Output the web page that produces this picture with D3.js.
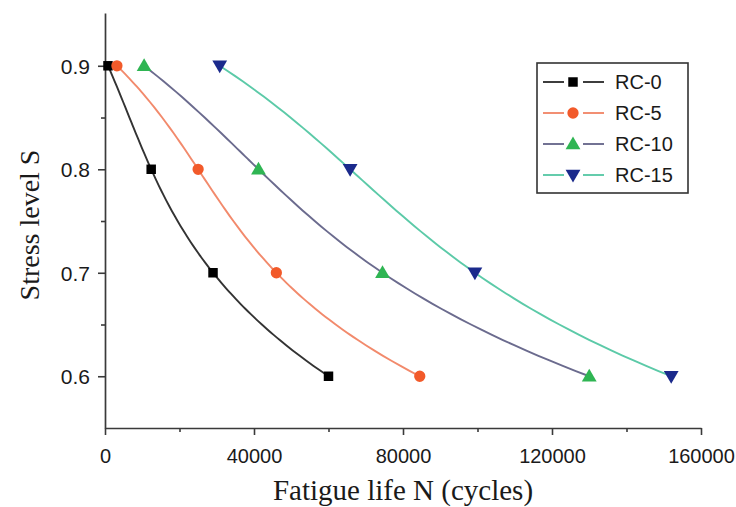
<!DOCTYPE html>
<html>
<head>
<meta charset="utf-8">
<script src="https://cdn.jsdelivr.net/npm/d3@7"></script>
<style>
  body { margin: 0; background: #fff; }
</style>
</head>
<body>
<svg class="chart"></svg>
<script>
// stress levels and fatigue life readings (cycles)
var stress = [0.9, 0.8, 0.7, 0.6];
var seriesNames = ["RC-0", "RC-5", "RC-10", "RC-15"];
var rc0 = [800, 12400, 29000, 60000];
var rc5 = [3200, 25000, 46000, 84500];
var rc10 = [10500, 41200, 74500, 130000];
var rc15 = [30800, 65800, 99300, 152000];
var xTicks = [0, 40000, 80000, 120000, 160000];
var yTicks = [0.6, 0.7, 0.8, 0.9];

var width = 736, height = 507;
var margin = {top: 13, right: 35, bottom: 79, left: 105};

var svg = d3.select(".chart").attr("width", width).attr("height", height);

var x = d3.scaleLinear().domain([0, 160000]).range([margin.left, width - margin.right]);
var y = d3.scaleLinear().domain([0.55, 0.951]).range([height - margin.bottom, margin.top]);

var styles = [
  {line: "#333333", fill: "#000000", shape: "square"},
  {line: "#f28a6c", fill: "#f25a2a", shape: "circle"},
  {line: "#6b6b8e", fill: "#2fb553", shape: "up"},
  {line: "#5ccaa8", fill: "#1b2a8c", shape: "down"}
];
var series = [rc0, rc5, rc10, rc15].map(function(vals, i) {
  return {name: seriesNames[i], style: styles[i],
          pts: vals.map(function(v, j) { return {n: v, s: stress[j]}; })};
});

// smooth polynomial trend N(S) through the measured points
function trend(pts) {
  return function(s) {
    var sum = 0;
    pts.forEach(function(pi, i) {
      var w = 1;
      pts.forEach(function(pj, j) { if (i != j) w *= (s - pj.s) / (pi.s - pj.s); });
      sum += w * pi.n;
    });
    return sum;
  };
}

function symbolPath(shape) {
  if (shape == "square") return d3.symbol(d3.symbolSquare, 90)();
  if (shape == "circle") return d3.symbol(d3.symbolCircle, 100)();
  return d3.symbol(d3.symbolTriangle, 95)();
}
function symbolTransform(shape, px, py) {
  if (shape == "up") return "translate(" + px + "," + (py + 1) + ")";
  if (shape == "down") return "translate(" + px + "," + (py - 1) + ") rotate(180)";
  return "translate(" + px + "," + py + ")";
}

// axes
var axisColor = "#3a3a3a";
var xAxis = svg.append("g").attr("transform", "translate(0," + y(0.55) + ")")
  .call(d3.axisBottom(x).tickValues(xTicks).tickSize(7).tickSizeOuter(0).tickFormat(d3.format("d")));
var xMinor = svg.append("g").attr("transform", "translate(0," + y(0.55) + ")")
  .call(d3.axisBottom(x).tickValues([20000, 60000, 100000, 140000]).tickSize(4).tickFormat(""));
xMinor.select(".domain").remove();

var yAxis = svg.append("g").attr("transform", "translate(" + x(0) + ",0)")
  .call(d3.axisLeft(y).tickValues(yTicks).tickSize(7).tickSizeOuter(0).tickFormat(d3.format(".1f")));
var yMinor = svg.append("g").attr("transform", "translate(" + x(0) + ",0)")
  .call(d3.axisLeft(y).tickValues([0.65, 0.75, 0.85]).tickSize(4).tickFormat(""));
yMinor.select(".domain").remove();

svg.selectAll(".domain").attr("stroke", axisColor).attr("stroke-width", 1.7);
svg.selectAll(".tick line").attr("stroke", axisColor).attr("stroke-width", 1.6);
svg.selectAll(".tick text").attr("fill", "#1a1a1a")
  .style("font-family", "Liberation Sans, Arial, sans-serif").style("font-size", "21px");
xAxis.selectAll(".tick text").attr("y", 28).attr("dy", "0.35em").style("font-size", "20px");
yAxis.selectAll(".tick text").attr("x", -15).attr("dy", "0.35em");

svg.append("text")
  .attr("x", 403).attr("y", 500)
  .attr("text-anchor", "middle")
  .style("font-family", "Liberation Serif, Times New Roman, serif").style("font-size", "29px")
  .attr("fill", "#1a1a1a")
  .text("Fatigue life N (cycles)");

svg.append("text")
  .attr("transform", "translate(39,225) rotate(-90)")
  .attr("text-anchor", "middle")
  .style("font-family", "Liberation Serif, Times New Roman, serif").style("font-size", "28px")
  .attr("fill", "#1a1a1a")
  .text("Stress level S");

// trend lines
var line = d3.line().x(function(d) { return x(d.n); }).y(function(d) { return y(d.s); })
  .curve(d3.curveMonotoneY);

var groups = svg.selectAll(".series").data(series).enter().append("g").attr("class", "series");
groups.append("path")
  .attr("d", function(d) {
    var f = trend(d.pts);
    var ss = d3.range(0, 61).map(function(k) { return 0.6 + k * 0.005; });
    return line(ss.map(function(s) { return {n: f(s), s: s}; }));
  })
  .attr("fill", "none")
  .attr("stroke", function(d) { return d.style.line; })
  .attr("stroke-width", 1.9);

groups.each(function(d) {
  d3.select(this).selectAll(".pt").data(d.pts).enter().append("path")
    .attr("class", "pt")
    .attr("d", symbolPath(d.style.shape))
    .attr("transform", function(p) { return symbolTransform(d.style.shape, x(p.n), y(p.s)); })
    .attr("fill", d.style.fill);
});

// legend
var legend = svg.append("g");
legend.append("rect").attr("x", 537).attr("y", 63).attr("width", 151).attr("height", 130)
  .attr("fill", "#fff").attr("stroke", "#333").attr("stroke-width", 1.6);
var items = legend.selectAll(".item").data(series).enter().append("g")
  .attr("transform", function(d, i) { return "translate(0," + (82 + i * 31) + ")"; });
items.append("line").attr("x1", 543).attr("x2", 564).attr("y1", 0).attr("y2", 0)
  .attr("stroke", function(d) { return d.style.line; }).attr("stroke-width", 1.9);
items.append("line").attr("x1", 583).attr("x2", 604).attr("y1", 0).attr("y2", 0)
  .attr("stroke", function(d) { return d.style.line; }).attr("stroke-width", 1.9);
items.append("path")
  .attr("d", function(d) { return symbolPath(d.style.shape); })
  .attr("transform", function(d) { return symbolTransform(d.style.shape, 573, 0); })
  .attr("fill", function(d) { return d.style.fill; });
items.append("text").attr("x", 615).attr("y", 0).attr("dy", "0.36em")
  .style("font-family", "Liberation Sans, Arial, sans-serif").style("font-size", "20px")
  .attr("fill", "#1a1a1a")
  .text(function(d) { return d.name; });
</script>
</body>
</html>
